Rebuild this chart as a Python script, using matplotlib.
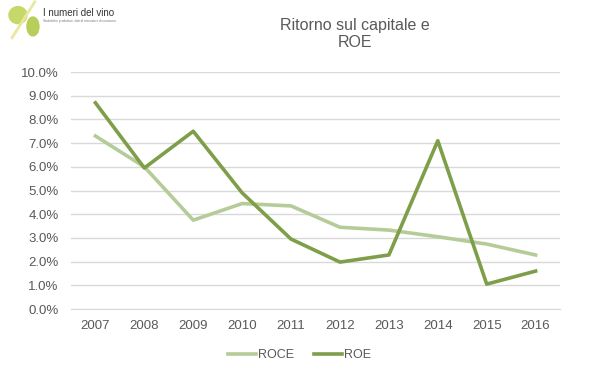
import matplotlib
matplotlib.use('Agg')
import matplotlib.pyplot as plt
from matplotlib.patches import Ellipse
from matplotlib.ticker import FuncFormatter

years = ['2007', '2008', '2009', '2010', '2011', '2012', '2013', '2014', '2015', '2016']
roce = [7.3, 6.0, 3.75, 4.45, 4.35, 3.45, 3.33, 3.05, 2.74, 2.28]
roe = [8.7, 5.95, 7.5, 4.9, 2.95, 1.98, 2.28, 7.1, 1.05, 1.6]

plt.rcParams['font.family'] = ['Liberation Sans', 'DejaVu Sans']
grey = '#595959'

fig = plt.figure(figsize=(5.99, 3.78), dpi=100)
ax = fig.add_axes([0.1185, 0.1825, 0.8165, 0.627])

x = list(range(len(years)))
ax.plot(x, [v / 100 for v in roce], color='#b6cc98', linewidth=2.6, label='ROCE',
        solid_joinstyle='round')
ax.plot(x, [v / 100 for v in roe], color='#7e9e4a', linewidth=2.6, label='ROE',
        solid_joinstyle='round')

ax.set_xlim(-0.5, len(years) - 0.5)
ax.set_ylim(0, 0.10)
ax.set_yticks([i / 100 for i in range(0, 11)])
ax.yaxis.set_major_formatter(FuncFormatter(lambda v, p: '%.1f%%' % (v * 100)))
ax.set_xticks(x)
ax.set_xticklabels(years)
ax.grid(True, axis='y', color='#d9d9d9', linewidth=1)
ax.set_axisbelow(True)
for s in ['top', 'right', 'left']:
    ax.spines[s].set_visible(False)
ax.spines['bottom'].set_color('#d9d9d9')
ax.tick_params(axis='both', length=0, colors=grey, labelsize=9.5)
ax.tick_params(axis='y', pad=9)
ax.tick_params(axis='x', pad=8)

fig.text(0.593, 0.91, 'Ritorno sul capitale e\nROE', ha='center', va='center',
         fontsize=11.5, color=grey, linespacing=1.2)

fig.legend(loc='center', bbox_to_anchor=(0.5, 0.06), ncol=2, frameon=False,
           fontsize=9, handlelength=2.2, columnspacing=1.6, handletextpad=0.2,
           labelcolor=grey)

# logo
fig.patches.append(Ellipse((0.03, 0.96), 0.03, 0.045, transform=fig.transFigure,
                           color='#c6d86a', figure=fig))
fig.patches.append(Ellipse((0.055, 0.93), 0.02, 0.05, transform=fig.transFigure,
                           color='#b7cf5a', figure=fig))
fig.lines.append(plt.Line2D([0.02, 0.058], [0.9, 0.995], transform=fig.transFigure,
                            color='#e8e8a0', linewidth=2, figure=fig))
fig.text(0.072, 0.966, 'I numeri del vino', fontsize=7, color='#333333', va='center')
fig.text(0.072, 0.945, 'Statistiche produttive, dati di mercato e di consumo', fontsize=2.3,
         color='#777777', va='center')

fig.savefig('out.png', dpi=100)
